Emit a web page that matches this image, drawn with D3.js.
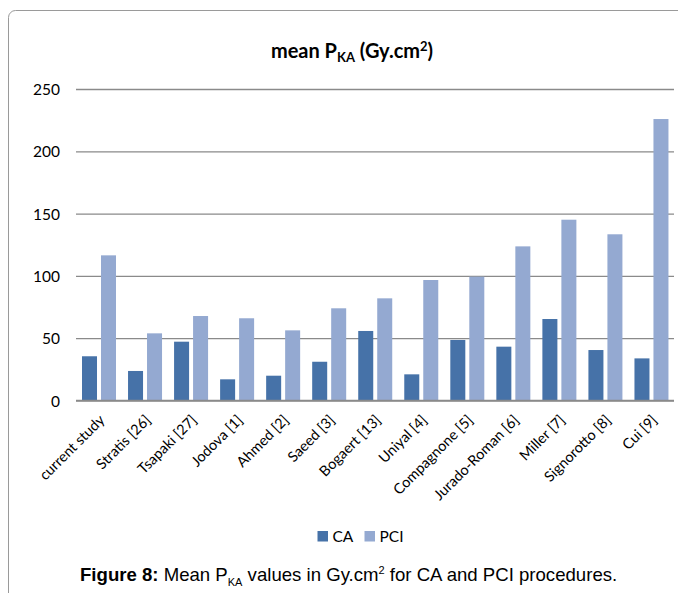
<!DOCTYPE html>
<html>
<head>
<meta charset="utf-8">
<script src="https://cdn.jsdelivr.net/npm/d3@7"></script>
<style>
  html, body { margin: 0; padding: 0; background: #fff; }
  svg { display: block; }
</style>
</head>
<body>
<svg id="chart" width="678" height="593"></svg>
<script>
const categories = ["current study", "Stratis [26]", "Tsapaki [27]", "Jodova [1]", "Ahmed [2]", "Saeed [3]", "Bogaert [13]", "Uniyal [4]", "Compagnone [5]", "Jurado-Roman [6]", "Miller [7]", "Signorotto [8]", "Cui [9]"];
const seriesNames = ["CA", "PCI"];
const caValues = [35.5, 23.7, 47.2, 17, 19.9, 31.1, 55.8, 21, 48.6, 43.2, 65.4, 40.5, 33.8];
const pciValues = [116.5, 53.9, 67.8, 66, 56.3, 74, 82, 96.7, 99.4, 123.7, 145.1, 133.4, 225.9];
const yTicks = [0, 50, 100, 150, 200, 250];
const colors = { CA: "#4672A8", PCI: "#94A9D1" };

const svg = d3.select("#chart");
const font = "Lato, 'Open Sans', sans-serif";

// outer chart border
svg.append("rect")
  .attr("x", 8.5).attr("y", 10.5)
  .attr("width", 720).attr("height", 620)
  .attr("rx", 7).attr("ry", 7)
  .attr("fill", "none").attr("stroke", "#9a9a9a").attr("stroke-width", 1);

const x = d3.scaleBand().domain(categories).range([75.5, 674]).paddingInner(0).paddingOuter(0);
const xInner = d3.scaleBand().domain(seriesNames).range([6.5, 40.5]).paddingInner(0.21).paddingOuter(0);
const y = d3.scaleLinear().domain([0, 250]).range([400.5, 89]);

// gridlines
const yAxis = d3.axisLeft(y).tickValues(yTicks).tickSize(-(674 - 76)).tickFormat(d3.format("d"));
const gy = svg.append("g").attr("transform", "translate(76,0)").call(yAxis);
gy.select(".domain").remove();
gy.selectAll(".tick line").attr("stroke", "#8a8a8a").attr("stroke-width", 1.3);
gy.selectAll(".tick text")
  .attr("x", -16)
  .attr("dy", "0.36em")
  .attr("fill", "#000")
  .style("font-family", font)
  .style("font-size", "15.5px");

// bars
const data = categories.map((c, i) => ({ cat: c, CA: caValues[i], PCI: pciValues[i] }));
const groups = svg.append("g").selectAll("g").data(data).join("g")
  .attr("transform", d => `translate(${x(d.cat)},0)`);
groups.selectAll("rect")
  .data(d => seriesNames.map(s => ({ s, v: d[s] })))
  .join("rect")
  .attr("x", d => xInner(d.s))
  .attr("width", xInner.bandwidth())
  .attr("y", d => y(d.v))
  .attr("height", d => y(0) - y(d.v))
  .attr("fill", d => colors[d.s]);

// baseline
svg.append("line")
  .attr("x1", 76).attr("x2", 674)
  .attr("y1", y(0)).attr("y2", y(0))
  .attr("stroke", "#8a8a8a").attr("stroke-width", 1.5);

// x labels
const xAxis = d3.axisBottom(x).tickSize(0).tickPadding(0);
const gx = svg.append("g").call(xAxis);
gx.select(".domain").remove();
gx.selectAll(".tick").attr("transform", d => `translate(${x(d) + x.bandwidth() / 2 + 7},421)`);
gx.selectAll(".tick text")
  .attr("x", 0).attr("y", 0).attr("dy", 0)
  .attr("text-anchor", "end")
  .attr("transform", "rotate(-45)")
  .attr("fill", "#000")
  .style("font-family", font)
  .style("font-size", "14.5px");

// title
const title = svg.append("text")
  .attr("x", 352).attr("y", 58)
  .attr("text-anchor", "middle")
  .style("font-family", font)
  .style("font-size", "20px")
  .style("font-weight", "bold")
  .attr("fill", "#000");
title.append("tspan").text("mean P");
title.append("tspan").text("KA").attr("dy", 4).style("font-size", "13px");
title.append("tspan").text(" (Gy.cm").attr("dy", -4);
title.append("tspan").text("2").attr("dy", -7).style("font-size", "13px");
title.append("tspan").text(")").attr("dy", 7);

// legend
const legend = svg.append("g");
const legX = [317.5, 364.5];
seriesNames.forEach((s, i) => {
  legend.append("rect").attr("x", legX[i]).attr("y", 531).attr("width", 10.5).attr("height", 10.5).attr("fill", colors[s]);
  legend.append("text").attr("x", legX[i] + 15).attr("y", 541.5)
    .text(s).style("font-family", font).style("font-size", "15.5px").attr("fill", "#000");
});

// caption
const cap = svg.append("text")
  .attr("x", 80).attr("y", 580.5)
  .style("font-family", "'Liberation Sans', Arial, sans-serif")
  .style("font-size", "18.6px")
  .attr("fill", "#000");
cap.append("tspan").text("Figure 8:").style("font-weight", "bold");
cap.append("tspan").text(" Mean P");
cap.append("tspan").text("KA").attr("dy", 5).style("font-size", "11px");
cap.append("tspan").text(" values in Gy.cm").attr("dy", -5);
cap.append("tspan").text("2").attr("dy", -7).style("font-size", "11px");
cap.append("tspan").text(" for CA and PCI procedures.").attr("dy", 7);
</script>
</body>
</html>
